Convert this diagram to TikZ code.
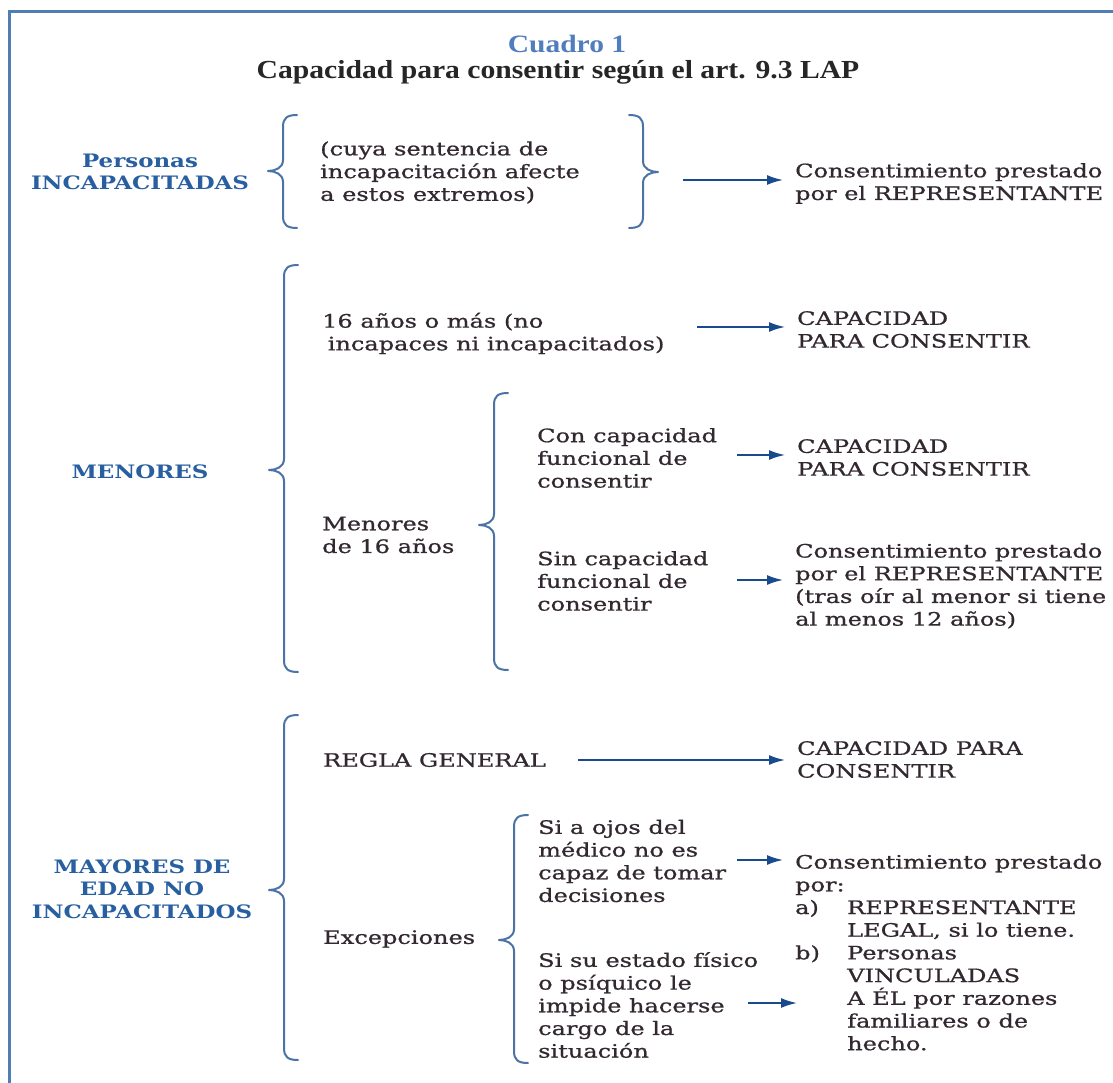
\documentclass[tikz,border=0pt]{standalone}
\usepackage{fontspec}
\setmainfont[FakeStretch=1.3,FakeBold=0.8]{DejaVu Serif}
\newfontfamily\titlefont[FakeStretch=1.14]{Liberation Serif}
\newfontfamily\cuadfont[FakeStretch=1.18]{Liberation Serif}
\newfontfamily\labfont[FakeStretch=1.24]{DejaVu Serif}
\usetikzlibrary{arrows.meta}
\definecolor{framecol}{RGB}{80,125,180}
\definecolor{labblue}{RGB}{40,95,160}
\definecolor{cuadcol}{RGB}{80,125,190}
\definecolor{txtdark}{RGB}{50,40,48}
\definecolor{arrcol}{RGB}{25,75,140}
\definecolor{bracecol}{RGB}{75,115,165}
% brace: #1 vertical x, #2 top y, #3 tip y, #4 bottom y, #5 direction (1 = "{", -1 = "}")
\newcommand\mybrace[5]{%
  \draw[brc] ({#1+#5*14},#2) .. controls ({#1+#5*4},#2) and (#1,{#2+3}) .. (#1,{#2+12})
    -- (#1,{#3-11}) .. controls (#1,{#3-3}) and ({#1-#5*8},#3) .. ({#1-#5*15},#3)
    .. controls ({#1-#5*8},#3) and (#1,{#3+3}) .. (#1,{#3+11})
    -- (#1,{#4-12}) .. controls (#1,{#4-3}) and ({#1+#5*4},#4) .. ({#1+#5*14},#4);}
\begin{document}
\begin{tikzpicture}[x=1pt,y=-1pt,
  body/.style={font=\fontsize{18.5}{22.7}\selectfont, text=txtdark, align=left, inner sep=0pt, anchor=west},
  lab/.style={font=\labfont\bfseries\fontsize{18.5}{22.7}\selectfont, text=labblue, align=center, inner sep=0pt},
  arr/.style={draw=arrcol, line width=1.8pt, -{Latex[length=16pt,width=10pt]}, shorten >=12pt},
  brc/.style={draw=bracecol, line width=2pt, line cap=round, line join=round}
]
\useasboundingbox (0,0) rectangle (1113,1083);
\fill[white] (0,0) rectangle (1113,1083);
% frame
\draw[framecol, line width=3pt] (9,1083) -- (9,12) -- (1113,12);
% title
\node[font=\cuadfont\bfseries\fontsize{25}{28}\selectfont, text=cuadcol] (cuadro) at (567,44) {Cuadro 1};
\node[font=\titlefont\bfseries\fontsize{26}{30}\selectfont, text=black!85] (titulo) at (558,72) {Capacidad para consentir según el art. 9.3 LAP};

% Section 1
\node[lab] (l1) at (140,172) {Personas\\INCAPACITADAS};
\mybrace{283}{115}{171}{228}{1}
\node[body] (t1) at (320,172.5) {(cuya sentencia de\\incapacitación afecte\\a estos extremos)};
\mybrace{643}{115}{172}{228}{-1}
\node[body] (r1) at (795,183.5) {Consentimiento prestado\\por el REPRESENTANTE};
\coordinate (s1) at (683,180);
\draw[arr] (s1) -- (s1 -| r1.west);

% Section 2
\node[lab] (l2) at (140,472) {MENORES};
\mybrace{284}{265}{470}{672}{1}
\node[body] (a2) at (322,333.5) {16 años o más (no\\\hspace*{0.3em}incapaces ni incapacitados)};
\node[body] (r2) at (797,329.5) {CAPACIDAD\\PARA CONSENTIR};
\coordinate (s2) at (697,327);
\draw[arr] (s2) -- (s2 -| r2.west);
\node[body] (m16) at (322,535) {Menores\\de 16 años};
\mybrace{494}{393}{525}{670}{1}
\node[body] (c1) at (537,458) {Con capacidad\\funcional de\\consentir};
\node[body] (r3) at (797,457.5) {CAPACIDAD\\PARA CONSENTIR};
\coordinate (s3) at (737,455);
\draw[arr] (s3) -- (s3 -| r3.west);
\node[body] (c2) at (537,581) {Sin capacidad\\funcional de\\consentir};
\node[body] (r4) at (795,586) {Consentimiento prestado\\por el REPRESENTANTE\\(tras oír al menor si tiene\\al menos 12 años)};
\coordinate (s4) at (737,580);
\draw[arr] (s4) -- (s4 -| r4.west);

% Section 3
\node[lab] (l3) at (142,889) {MAYORES DE\\EDAD NO\\INCAPACITADOS};
\mybrace{284}{715}{890}{1060}{1}
\node[body] (rg) at (323,760) {REGLA GENERAL};
\node[body] (r5) at (797,759.5) {CAPACIDAD PARA\\CONSENTIR};
\coordinate (s5) at (578,760);
\draw[arr] (s5) -- (s5 -| r5.west);
\node[body] (ex) at (323,939) {Excepciones};
\mybrace{514}{815}{940}{1063}{1}
\node[body] (e1) at (538,861) {Si a ojos del\\médico no es\\capaz de tomar\\decisiones};
\node[body] (e2) at (538,1005) {Si su estado físico\\o psíquico le\\impide hacerse\\cargo de la\\situación};
\node[body] (r6) at (795,952.5) {Consentimiento prestado\\por:\\\makebox[52pt][l]{a)}REPRESENTANTE\\\hspace*{52pt}LEGAL, si lo tiene.\\\makebox[52pt][l]{b)}Personas\\\hspace*{52pt}VINCULADAS\\\hspace*{52pt}A ÉL por razones\\\hspace*{52pt}familiares o de\\\hspace*{52pt}hecho.};
\coordinate (s6) at (737,860);
\draw[arr] (s6) -- (s6 -| r6.west);
\coordinate (s7) at (748,1003);
\draw[arr, shorten >=-2pt] (s7) -- (s7 -| r6.west);
\end{tikzpicture}
\end{document}
